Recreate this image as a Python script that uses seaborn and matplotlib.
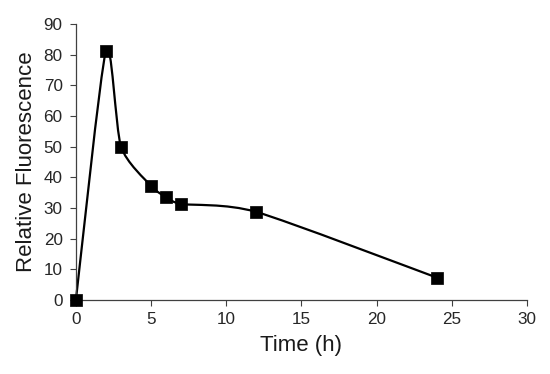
import matplotlib
matplotlib.use("Agg")
import matplotlib.pyplot as plt
import seaborn as sns
import numpy as np
import pandas as pd
from matplotlib.path import Path
from matplotlib.patches import PathPatch

# data
time_h = [0, 2, 3, 5, 6, 7, 12, 24]
fluorescence = [0, 81.3, 50.0, 37.2, 33.5, 31.3, 28.7, 7.3]

x_ticks = [0, 5, 10, 15, 20, 25, 30]
y_ticks = [0, 10, 20, 30, 40, 50, 60, 70, 80, 90]

df = pd.DataFrame({"Time (h)": time_h, "Relative Fluorescence": fluorescence})


def excel_smooth_path(ax, xs, ys, tension=0.12):
    """Bezier path through the points, roughly like Excel's smoothed line."""
    pts = np.column_stack([xs, ys]).astype(float)
    # scale to display units so the handle clamp works on screen distances
    p0 = ax.transData.transform((0, 0))
    p1 = ax.transData.transform((1, 1))
    sc = np.abs(p1 - p0)
    n = len(pts)
    verts = [tuple(pts[0])]
    codes = [Path.MOVETO]
    for i in range(n - 1):
        a = pts[max(i - 1, 0)]
        b = pts[i]
        c = pts[i + 1]
        d = pts[min(i + 2, n - 1)]
        d_bc = np.hypot(*((c - b) * sc))
        d_ac = np.hypot(*((c - a) * sc))
        d_bd = np.hypot(*((d - b) * sc))
        s1 = tension if d_ac == 0 else min(tension, 0.5 * d_bc / d_ac)
        s2 = tension if d_bd == 0 else min(tension, 0.5 * d_bc / d_bd)
        c1 = b + (c - a) * s1
        c2 = c - (d - b) * s2
        verts += [tuple(c1), tuple(c2), tuple(c)]
        codes += [Path.CURVE4] * 3
    return Path(verts, codes)


sns.set_style("ticks")
plt.rcParams["font.family"] = ["Liberation Sans", "DejaVu Sans"]

fig = plt.figure(figsize=(5.5, 3.74), dpi=100)
ax = fig.add_axes([0.138, 0.198, 0.82, 0.738])
ax.set_xlim(0, 30)
ax.set_ylim(0, 90)

path = excel_smooth_path(ax, time_h, fluorescence)
ax.add_patch(PathPatch(path, facecolor="none", edgecolor="black", lw=1.6,
                       zorder=2, clip_on=False))

sns.scatterplot(data=df, x="Time (h)", y="Relative Fluorescence", ax=ax,
                marker="s", s=68, color="black", edgecolor="black",
                linewidth=0.5, zorder=3, clip_on=False)

ax.set_xticks(x_ticks)
ax.set_yticks(y_ticks)
ax.tick_params(axis="both", labelsize=12.3, length=4.5, width=0.8,
               color="#404040", labelcolor="#262626")
ax.tick_params(axis="y", pad=5)
ax.tick_params(axis="x", pad=4)
for side in ["top", "right"]:
    ax.spines[side].set_visible(False)
for side in ["left", "bottom"]:
    ax.spines[side].set_color("#404040")
    ax.spines[side].set_linewidth(0.9)

ax.set_xlabel("Time (h)", fontsize=16, color="#1a1a1a", labelpad=6)
ax.set_ylabel("Relative Fluorescence", fontsize=16, color="#1a1a1a", labelpad=5)

plt.savefig("out.png", dpi=100)
plt.close()
